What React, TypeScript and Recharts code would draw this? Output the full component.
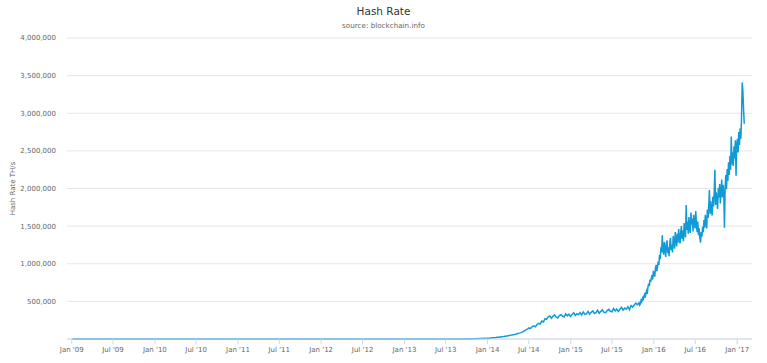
import { LineChart, Line, XAxis, YAxis, CartesianGrid } from "recharts";

// early history, effectively flat on this scale (TH/s)
const EARLY_DATES = [
  "2009-01-03", "2009-07-01", "2010-01-01", "2010-07-01", "2011-01-01", "2011-07-01",
  "2012-01-01", "2012-07-01", "2013-01-01", "2013-04-01", "2013-07-01", "2013-10-01",
];
const EARLY_VALUES = [0, 0, 0, 0.0001, 0.2, 11, 9, 15, 22, 55, 200, 1500];

// weekly readings from 2014-01-01, in PH/s
const WEEKLY_START = "2014-01-01";
const WEEKLY_PHS = [
  10, 11, 13, 15, 17, 19, 22, 24, 27, 30,
  33, 37, 40, 44, 48, 52, 57, 61, 66, 72,
  78, 85, 95, 106, 121, 130, 147, 141, 166, 175,
  162, 192, 207, 198, 238, 226, 270, 262, 296, 305,
  275, 301, 320, 290, 279, 313, 324, 304, 293, 333,
  308, 330, 300, 327, 350, 313, 336, 322, 350, 318,
  360, 328, 334, 366, 330, 354, 373, 339, 349, 381,
  341, 367, 386, 354, 350, 377, 395, 368, 361, 405,
  373, 398, 366, 396, 421, 383, 411, 395, 429, 390,
  445, 425, 452, 478, 455,
];

// readings every 3 days from 2015-10-28, in PH/s
const DENSE_START = "2015-10-28";
const DENSE_PHS = [
  480, 452, 470, 515, 498, 540, 512, 566, 590, 548,
  612, 640, 598, 690, 735, 702, 790, 760, 812, 850,
  790, 905, 870, 828, 940, 985, 900, 962, 1030, 985,
  1120, 1060, 1220, 1150, 1380, 1180, 1120, 1290, 1210, 1090,
  1260, 1310, 1140, 1220, 1100, 1280, 1340, 1180, 1250, 1150,
  1370, 1290, 1200, 1420, 1330, 1230, 1400, 1280, 1460, 1350,
  1270, 1420, 1500, 1330, 1440, 1300, 1540, 1430, 1350, 1780,
  1450, 1560, 1400, 1620, 1480, 1410, 1680, 1520, 1600, 1430,
  1650, 1560, 1470, 1700, 1520, 1420, 1560, 1380, 1470, 1340,
  1280, 1420, 1360, 1490, 1420, 1580, 1480, 1650, 1560, 1470,
  1720, 1610, 1760, 1980, 1660, 1830, 1720, 1640, 1890, 1760,
  1940, 2250, 1780, 1950, 1840, 1730, 2010, 1880, 2060, 1800,
  1960, 2120, 1880, 2050, 1940, 1480, 2020, 2180, 1990, 2260,
  2100, 2350, 2180, 2430, 2250, 2690, 2320, 2480, 2300, 2560,
  2400, 2640, 2170, 2580, 2660, 2480, 2750, 2580, 2800, 2660,
  2950, 3410, 3300, 3050, 2860,
];

const Y_TICKS = [0, 500000, 1000000, 1500000, 2000000, 2500000, 3000000, 3500000, 4000000];
const TICK_YEARS = [2009, 2010, 2011, 2012, 2013, 2014, 2015, 2016, 2017];

const DAY = 86400000;
const utc = (s: string) => Date.parse(s + "T00:00:00Z");

const data = [
  ...EARLY_DATES.map((d, i) => ({ t: utc(d), v: EARLY_VALUES[i] })),
  ...WEEKLY_PHS.map((v, i) => ({ t: utc(WEEKLY_START) + i * 7 * DAY, v: v * 1000 })),
  ...DENSE_PHS.map((v, i) => ({ t: utc(DENSE_START) + i * 3 * DAY, v: v * 1000 })),
];

const xTicks: number[] = [];
TICK_YEARS.forEach((y) => {
  xTicks.push(Date.UTC(y, 0, 1));
  if (y < 2017) xTicks.push(Date.UTC(y, 6, 1));
});

const fmtDate = (t: number) => {
  const d = new Date(t);
  const m = d.getUTCMonth() === 0 ? "Jan" : "Jul";
  return `${m} '${String(d.getUTCFullYear()).slice(2)}`;
};

const fmtNum = (v: number) => (v === 0 ? "" : v.toLocaleString("en-US"));

const FONT = "'DejaVu Sans', sans-serif";

export default function App() {
  return (
    <div style={{ position: "relative", width: 767, height: 363, fontFamily: FONT }}>
      <style>{"body{margin:0}"}</style>
      <div style={{ position: "absolute", top: 6, left: 0, width: 767, textAlign: "center", fontSize: 10.5, lineHeight: 1, color: "#333" }}>
        Hash Rate
      </div>
      <div style={{ position: "absolute", top: 22, left: 0, width: 767, textAlign: "center", fontSize: 7.2, lineHeight: 1, color: "#666" }}>
        source: blockchain.info
      </div>
      <LineChart width={767} height={363} data={data} margin={{ top: 38, right: 15, bottom: 0, left: 0 }}>
        <CartesianGrid vertical={false} stroke="#e6e6e6" />
        <XAxis
          dataKey="t"
          type="number"
          scale="time"
          domain={[Date.UTC(2008, 11, 11), Date.UTC(2017, 2, 7)]}
          ticks={xTicks}
          tickFormatter={fmtDate}
          height={24}
          stroke="#ccd6eb"
          tickSize={5}
          tickMargin={3}
          tick={{ fill: "#666", fontSize: 7, fontFamily: FONT }}
          interval={0}
        />
        <YAxis
          type="number"
          domain={[0, 4000000]}
          ticks={Y_TICKS}
          tickFormatter={fmtNum}
          width={67}
          axisLine={false}
          tickLine={false}
          tickSize={0}
          tickMargin={11}
          tick={{ fill: "#666", fontSize: 7, fontFamily: FONT }}
          label={{
            value: "Hash Rate TH/s",
            angle: -90,
            position: "insideLeft",
            offset: 13,
            style: { textAnchor: "middle", fill: "#666", fontSize: 7, fontFamily: FONT },
          }}
        />
        <Line
          type="linear"
          dataKey="v"
          stroke="#109bd7"
          strokeWidth={1.5}
          dot={false}
          isAnimationActive={false}
        />
      </LineChart>
    </div>
  );
}
